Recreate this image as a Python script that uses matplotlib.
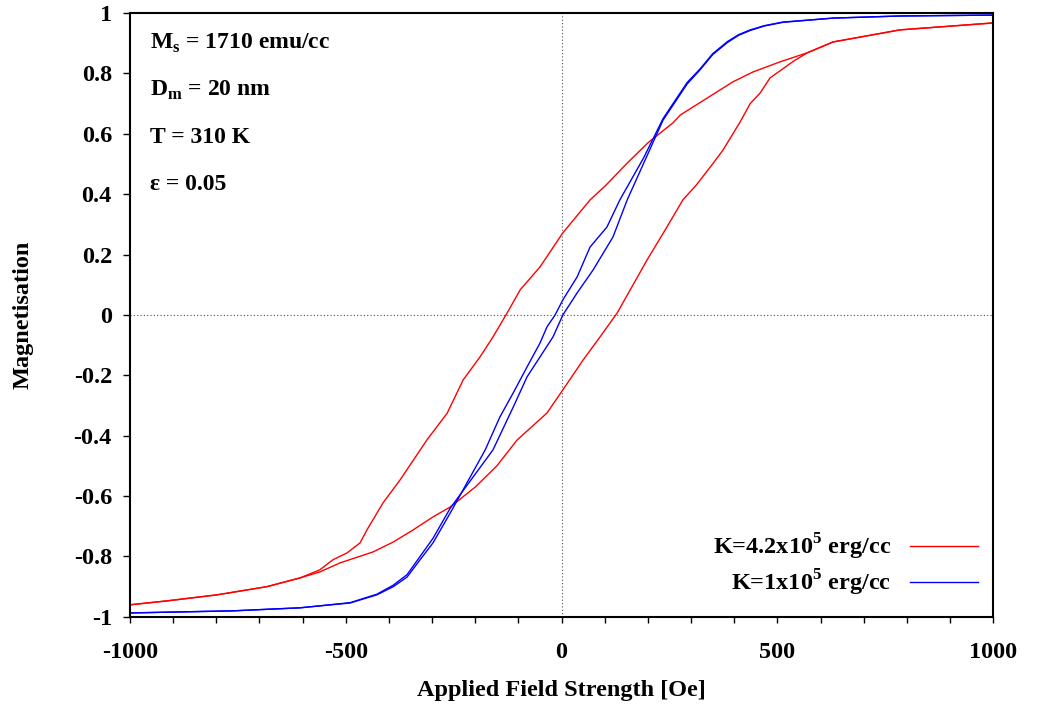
import numpy as np
import matplotlib
matplotlib.use("Agg")
import matplotlib.pyplot as plt
from matplotlib.ticker import MultipleLocator, FixedLocator, FuncFormatter

plt.rcParams['font.family'] = ['Liberation Serif', 'DejaVu Serif']
plt.rcParams['font.weight'] = 'bold'
plt.rcParams['axes.unicode_minus'] = False
plt.rcParams['mathtext.fontset'] = 'custom'
plt.rcParams['mathtext.rm'] = 'Liberation Serif:bold'
plt.rcParams['mathtext.bf'] = 'Liberation Serif:bold'

# K = 4.2e5 erg/cc, descending field branch
red_down_h = [1000, 784, 629, 569, 506, 444, 397, 337, 275, 258, 200, 150, 103, 66, 3,
              -50, -96, -126, -159, -189, -228, -265, -312, -374, -414, -451, -467,
              -497, -530, -560, -606, -683, -798, -914, -1000]
red_down_m = [0.967, 0.944, 0.904, 0.868, 0.838, 0.805, 0.772, 0.718, 0.662, 0.636, 0.57,
              0.5, 0.43, 0.381, 0.272, 0.159, 0.083, 0.007, -0.073, -0.139, -0.215,
              -0.325, -0.414, -0.546, -0.623, -0.712, -0.755, -0.788, -0.811, -0.844,
              -0.871, -0.9, -0.927, -0.947, -0.96]
# K = 4.2e5 erg/cc, ascending field branch
red_up_h = [-1000, -914, -798, -683, -606, -560, -513, -437, -390, -344, -298, -258, -200,
            -150, -103, -34, 3, 50, 89, 129, 159, 198, 244, 281, 312, 350, 374, 414,
            437, 460, 483, 537, 569, 629, 784, 1000]
red_up_m = [-0.96, -0.947, -0.927, -0.9, -0.871, -0.851, -0.821, -0.785, -0.752, -0.712,
            -0.669, -0.636, -0.57, -0.5, -0.414, -0.325, -0.248, -0.149, -0.073, 0.007,
            0.083, 0.182, 0.291, 0.381, 0.43, 0.5, 0.546, 0.64, 0.70, 0.735, 0.785,
            0.84, 0.868, 0.904, 0.944, 0.967]

# K = 1e5 erg/cc, descending field branch
blue_down_h = [1000, 784, 629, 513, 470, 437, 410, 384, 350, 321, 291, 235, 190, 135, 105,
               66, 36, 3, -15, -34, -50, -80, -112, -143, -177, -258, -298, -328, -358,
               -390, -428, -490, -606, -761, -1000]
blue_down_m = [0.993, 0.99, 0.983, 0.97, 0.958, 0.944, 0.928, 0.905, 0.865, 0.815, 0.77,
               0.65, 0.52, 0.381, 0.291, 0.225, 0.126, 0.05, 0.0, -0.04, -0.093, -0.172,
               -0.258, -0.338, -0.447, -0.656, -0.755, -0.811, -0.868, -0.9, -0.927,
               -0.954, -0.97, -0.98, -0.987]
# K = 1e5 erg/cc, ascending field branch
blue_up_h = [-1000, -761, -606, -490, -428, -390, -358, -328, -298, -258, -159, -112, -80,
             -50, -20, 3, 36, 73, 119, 152, 235, 291, 321, 350, 384, 410, 437, 470, 513,
             629, 784, 1000]
blue_up_m = [-0.987, -0.98, -0.97, -0.953, -0.925, -0.895, -0.86, -0.8, -0.74, -0.64,
             -0.447, -0.305, -0.205, -0.139, -0.073, 0.0, 0.073, 0.149, 0.258, 0.381,
             0.645, 0.765, 0.812, 0.862, 0.902, 0.926, 0.942, 0.957, 0.969, 0.983, 0.99,
             0.993]

params = ["M$_\\mathregular{s}$ = 1710 emu/cc", "D$_\\mathregular{m}$ = 20 nm",
          "T = 310 K", "\u03b5 = 0.05"]
labels = ["K=4.2x10$^\\mathregular{5}$ erg/cc", "K=1x10$^\\mathregular{5}$ erg/cc"]
yticks = [-1, -0.8, -0.6, -0.4, -0.2, 0, 0.2, 0.4, 0.6, 0.8, 1]

fig = plt.figure(figsize=(10.4, 7.05), dpi=100)
ax = fig.add_axes([0.125, 0.125, 0.83, 0.8566])

ax.axhline(0, color='0.3', lw=0.8, ls=(0, (1, 2)))
ax.axvline(0, color='0.3', lw=0.8, ls=(0, (1, 2)))

ax.plot(red_down_h, red_down_m, color='#ff0000', lw=1.0, label=labels[0])
ax.plot(red_up_h, red_up_m, color='#ff0000', lw=1.0)
ax.plot(blue_down_h, blue_down_m, color='#0000ff', lw=1.0, label=labels[1])
ax.plot(blue_up_h, blue_up_m, color='#0000ff', lw=1.0)

ax.set_xlim(-1000, 1000)
ax.set_ylim(-1, 1)
ax.xaxis.set_major_locator(MultipleLocator(500))
ax.xaxis.set_minor_locator(MultipleLocator(100))
ax.yaxis.set_major_locator(FixedLocator(yticks))
ax.yaxis.set_major_formatter(FuncFormatter(lambda v, p: '%g' % round(v, 2)))
ax.tick_params(axis='both', which='both', direction='out', labelsize=17.5,
               top=False, right=False)
ax.tick_params(axis='x', which='both', length=4, width=1, pad=14)
ax.tick_params(axis='y', which='major', length=5, width=1, pad=8)
for s in ax.spines.values():
    s.set_linewidth(1.5)

ax.set_xlabel("Applied Field Strength [Oe]", fontsize=17.5, fontweight='bold', labelpad=12)
ax.set_ylabel("Magnetisation", fontsize=17.5, fontweight='bold', labelpad=29)

for i, t in enumerate(params):
    ax.text(0.023, 0.95 - i * 0.078, t, transform=ax.transAxes, fontsize=17,
            fontweight='bold', va='center', ha='left')

ax.legend(loc='lower right', bbox_to_anchor=(1.008, -0.005), frameon=False,
          markerfirst=False, handlelength=2.8, labelspacing=0.25, handletextpad=0.8,
          prop={'weight': 'bold', 'size': 17.5})

fig.savefig("out.png", dpi=100)
